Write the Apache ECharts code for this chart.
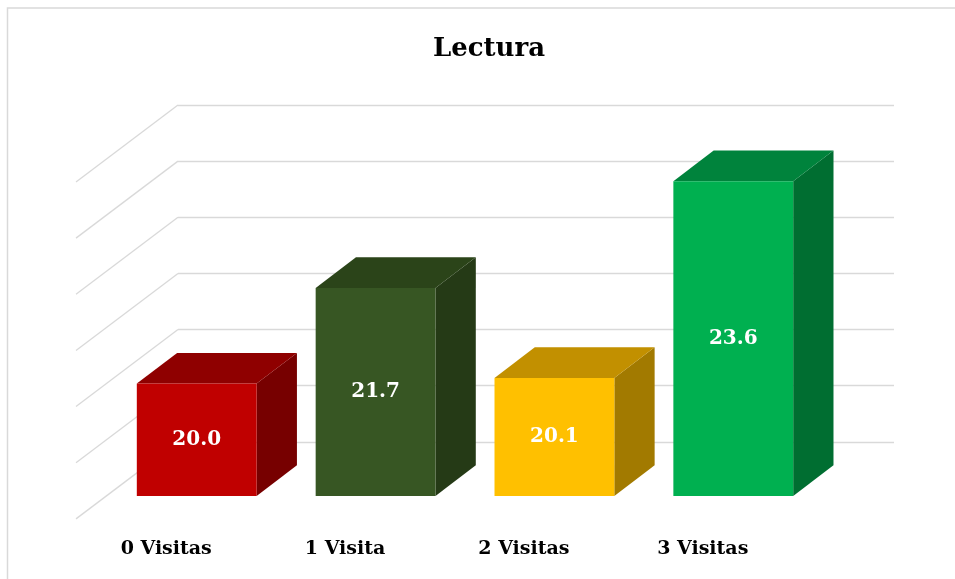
<!DOCTYPE html>
<html>
<head>
<meta charset="utf-8">
<script src="https://cdn.jsdelivr.net/npm/echarts@6/dist/echarts.min.js"></script>
<style>html,body{margin:0;padding:0;background:#fff}#c{width:955px;height:579px}</style>
</head>
<body>
<div id="c"></div>
<script>
const titleText = 'Lectura';
const categories = ['0 Visitas', '1 Visita', '2 Visitas', '3 Visitas'];
const values = [20.0, 21.7, 20.1, 23.6];
const valueLabels = ['20.0', '21.7', '20.1', '23.6'];
const yMin = 18, yMax = 25, yInterval = 1;
const wallTicks = [19, 20, 21, 22, 23, 24, 25];
const frontColors = ['#C00000', '#375623', '#FFC000', '#00B050'];
const topColors = ['#8F0000', '#2B4419', '#C29000', '#00833C'];
const sideColors = ['#770000', '#253A16', '#A27A00', '#006E31'];

const DX = 40.3, DY = -30.7;          // depth offset of bars
const WX = -102, WY = 77;             // side wall diagonal
const serif = 'DejaVu Serif';

const chart = echarts.init(document.getElementById('c'), null, {renderer: 'canvas'});
chart.setOption({
  animation: false,
  backgroundColor: '#fff',
  title: {
    text: titleText, left: 484, top: 31, textAlign: 'center',
    textStyle: {fontFamily: serif, fontWeight: 'bold', fontSize: 26, color: '#000'}
  },
  graphic: [{
    type: 'rect', z: -1, silent: true,
    shape: {x: 7.5, y: 8, width: 980, height: 620},
    style: {fill: 'none', stroke: '#D9D9D9', lineWidth: 1.5}
  }],
  grid: [
    {left: 178, right: 61, top: 105, bottom: 81},
    {left: 107.3, width: 715.4, top: 102.6, bottom: 83},
    {left: 76.8, width: 715.4, top: 102.6, bottom: 40}
  ],
  xAxis: [
    {gridIndex: 0, type: 'value', min: 0, max: 1, show: false},
    {gridIndex: 1, type: 'category', data: categories, show: false},
    {gridIndex: 2, type: 'category', data: categories,
     axisLine: {show: false}, axisTick: {show: false}, splitLine: {show: false},
     axisLabel: {margin: 10, verticalAlign: 'middle', fontFamily: serif, fontWeight: 'bold', fontSize: 19, color: '#000'}}
  ],
  yAxis: [
    {gridIndex: 0, type: 'value', min: yMin, max: yMax, interval: yInterval,
     axisLine: {show: false}, axisTick: {show: false}, axisLabel: {show: false},
     splitLine: {show: true, showMinLine: false, lineStyle: {color: '#D9D9D9', width: 1.3}}},
    {gridIndex: 1, type: 'value', min: yMin, max: yMax, interval: yInterval, show: false, splitLine: {show: false}},
    {gridIndex: 2, type: 'value', min: yMin, max: yMax, show: false, splitLine: {show: false}}
  ],
  series: [
    {
      type: 'custom', xAxisIndex: 0, yAxisIndex: 0, z: 1, silent: true,
      data: wallTicks.map(v => [0, v]),
      renderItem: function (params, api) {
        const p = api.coord([api.value(0), api.value(1)]);
        return {type: 'line', shape: {x1: p[0], y1: p[1], x2: p[0] + WX, y2: p[1] + WY},
                style: {stroke: '#D9D9D9', lineWidth: 1.3}};
      }
    },
    {
      type: 'custom', xAxisIndex: 1, yAxisIndex: 1, z: 5, silent: true,
      data: values.map((v, i) => [i, v]),
      renderItem: function (params, api) {
        const i = api.value(0);
        const t = api.coord([i, api.value(1)]);
        const b = api.coord([i, yMin]);
        const w = api.size([1, 0])[0] * 0.67;
        const x0 = t[0] - w / 2, x1 = x0 + w;
        return {type: 'group', children: [
          {type: 'polygon', shape: {points: [[x1, t[1]], [x1 + DX, t[1] + DY], [x1 + DX, b[1] + DY], [x1, b[1]]]},
           style: {fill: sideColors[i]}},
          {type: 'polygon', shape: {points: [[x0, t[1]], [x0 + DX, t[1] + DY], [x1 + DX, t[1] + DY], [x1, t[1]]]},
           style: {fill: topColors[i]}},
          {type: 'rect', shape: {x: x0, y: t[1], width: w, height: b[1] - t[1]},
           style: {fill: frontColors[i]}},
          {type: 'text', x: t[0], y: (t[1] + b[1]) / 2,
           style: {text: valueLabels[i], fill: '#fff', align: 'center', verticalAlign: 'middle',
                   fontFamily: serif, fontWeight: 'bold', fontSize: 20}}
        ]};
      }
    }
  ]
});
</script>
</body>
</html>
